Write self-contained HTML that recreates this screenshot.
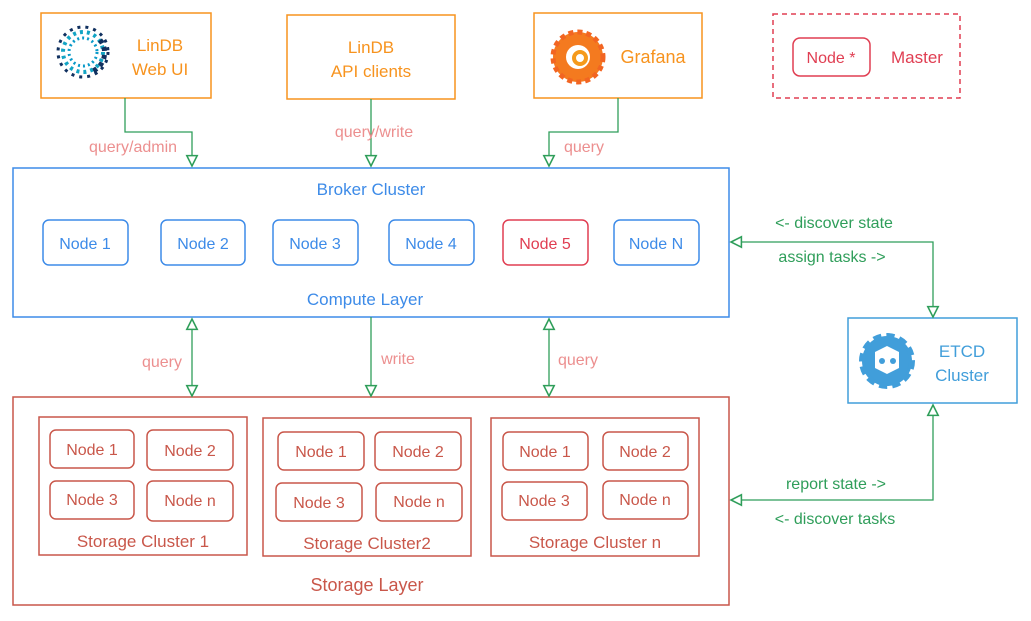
<!DOCTYPE html>
<html><head><meta charset="utf-8"><style>
html,body{margin:0;padding:0;background:#fff}
svg{display:block}
text{font-family:"Liberation Sans",sans-serif}
</style></head><body>
<svg width="1031" height="621" viewBox="0 0 1031 621" xmlns="http://www.w3.org/2000/svg">
<defs>
<marker id="a" viewBox="0 0 10 10" refX="9" refY="5" markerWidth="10" markerHeight="10" orient="auto-start-reverse"><path d="M1,1 L9,5 L1,9 Z" fill="#fff" stroke="#2f9e5a" stroke-width="1.2"/></marker>
</defs>
<g fill="none" stroke="#f7931e" stroke-width="1.5">
<rect x="41" y="13" width="170" height="85"/>
<rect x="287" y="15" width="168" height="84"/>
<rect x="534" y="13" width="168" height="85"/>
</g>
<g>
<circle cx="83" cy="52" r="14" fill="none" stroke="#0a9ac9" stroke-width="3" stroke-dasharray="2 3"/>
<circle cx="83" cy="52" r="20" fill="none" stroke="#12a4c4" stroke-width="4" stroke-dasharray="3 4"/>
<circle cx="83" cy="52" r="25" fill="none" stroke="#10305f" stroke-width="3" stroke-dasharray="3 5"/>
<path d="M100,40 A20,20 0 0 1 90,72" fill="none" stroke="#10305f" stroke-width="5" stroke-dasharray="4 4"/>
</g>
<text x="160" y="51" fill="#f7931e" font-size="17" text-anchor="middle">LinDB</text>
<text x="160" y="75" fill="#f7931e" font-size="17" text-anchor="middle">Web UI</text>
<text x="371" y="53" fill="#f7931e" font-size="17" text-anchor="middle">LinDB</text>
<text x="371" y="77" fill="#f7931e" font-size="17" text-anchor="middle">API clients</text>
<circle cx="578" cy="57" r="25" fill="#f47a1f" stroke="#f26522" stroke-width="5" stroke-dasharray="5 4"/>
<circle cx="578" cy="57" r="12" fill="#fff"/>
<circle cx="580" cy="58" r="6" fill="none" stroke="#f59a1c" stroke-width="4"/>
<text x="653" y="63" fill="#f7931e" font-size="18" text-anchor="middle">Grafana</text>
<rect x="773" y="14" width="187" height="84" fill="none" stroke="#e03e52" stroke-width="1.5" stroke-dasharray="5 4"/>
<rect x="793" y="38" width="77" height="38" rx="7" fill="none" stroke="#e03e52" stroke-width="1.5"/>
<text x="831" y="63" fill="#e03e52" font-size="16" text-anchor="middle">Node *</text>
<text x="917" y="63" fill="#e03e52" font-size="17" text-anchor="middle">Master</text>
<rect x="13" y="168" width="716" height="149" fill="none" stroke="#3d8be8" stroke-width="1.5"/>
<text x="371" y="195" fill="#3d8be8" font-size="17" text-anchor="middle">Broker Cluster</text>
<text x="365" y="305" fill="#3d8be8" font-size="17" text-anchor="middle">Compute Layer</text>
<g fill="none" stroke="#3d8be8" stroke-width="1.5">
<rect x="43" y="220" width="85" height="45" rx="6"/>
<rect x="161" y="220" width="84" height="45" rx="6"/>
<rect x="273" y="220" width="85" height="45" rx="6"/>
<rect x="389" y="220" width="85" height="45" rx="6"/>
<rect x="614" y="220" width="85" height="45" rx="6"/>
</g>
<rect x="503" y="220" width="85" height="45" rx="6" fill="none" stroke="#e03e52" stroke-width="1.5"/>
<g fill="#3d8be8" font-size="16" text-anchor="middle">
<text x="85" y="249">Node 1</text><text x="203" y="249">Node 2</text><text x="315" y="249">Node 3</text><text x="431" y="249">Node 4</text><text x="656" y="249">Node N</text>
</g>
<text x="545" y="249" fill="#e03e52" font-size="16" text-anchor="middle">Node 5</text>
<g fill="none" stroke="#c9574a" stroke-width="1.5">
<rect x="13" y="397" width="716" height="208"/>
<rect x="39" y="417" width="208" height="138"/>
<rect x="263" y="418" width="208" height="138"/>
<rect x="491" y="418" width="208" height="138"/>
<rect x="50" y="430" width="84" height="38" rx="6"/><rect x="147" y="430" width="86" height="40" rx="6"/>
<rect x="50" y="481" width="84" height="38" rx="6"/><rect x="147" y="481" width="86" height="40" rx="6"/>
<rect x="278" y="432" width="86" height="38" rx="6"/><rect x="375" y="432" width="86" height="38" rx="6"/>
<rect x="276" y="483" width="86" height="38" rx="6"/><rect x="376" y="483" width="86" height="38" rx="6"/>
<rect x="503" y="432" width="85" height="38" rx="6"/><rect x="603" y="432" width="85" height="38" rx="6"/>
<rect x="502" y="482" width="85" height="38" rx="6"/><rect x="603" y="481" width="85" height="38" rx="6"/>
</g>
<g fill="#c9574a" font-size="16" text-anchor="middle">
<text x="92" y="455">Node 1</text><text x="190" y="456">Node 2</text>
<text x="92" y="505">Node 3</text><text x="190" y="506">Node n</text>
<text x="321" y="457">Node 1</text><text x="418" y="457">Node 2</text>
<text x="319" y="508">Node 3</text><text x="419" y="507">Node n</text>
<text x="545" y="457">Node 1</text><text x="645" y="457">Node 2</text>
<text x="544" y="506">Node 3</text><text x="645" y="505">Node n</text>
<text x="143" y="547" font-size="17">Storage Cluster 1</text>
<text x="367" y="549" font-size="17">Storage Cluster2</text>
<text x="595" y="548" font-size="17">Storage Cluster n</text>
<text x="367" y="591" font-size="18">Storage Layer</text>
</g>
<rect x="848" y="318" width="169" height="85" fill="none" stroke="#419eda" stroke-width="1.5"/>
<circle cx="887" cy="361" r="25" fill="#419eda" stroke="#419eda" stroke-width="6" stroke-dasharray="8 5"/>
<circle cx="887" cy="361" r="22" fill="#419eda"/>
<path d="M875,352 L887,346 L899,352 L899,368 L887,374 L875,368Z" fill="#fff"/>
<circle cx="882" cy="361" r="3" fill="#419eda"/><circle cx="893" cy="361" r="3" fill="#419eda"/>
<text x="962" y="357" fill="#419eda" font-size="17" text-anchor="middle">ETCD</text>
<text x="962" y="381" fill="#419eda" font-size="17" text-anchor="middle">Cluster</text>
<g fill="none" stroke="#2f9e5a" stroke-width="1.3">
<path d="M125,98 V132 H192 V166" marker-end="url(#a)"/>
<path d="M371,99 V166" marker-end="url(#a)"/>
<path d="M618,98 V132 H549 V166" marker-end="url(#a)"/>
<path d="M192,319 V396" marker-start="url(#a)" marker-end="url(#a)"/>
<path d="M371,317 V396" marker-end="url(#a)"/>
<path d="M549,319 V396" marker-start="url(#a)" marker-end="url(#a)"/>
<path d="M731,242 H933 V317" marker-start="url(#a)" marker-end="url(#a)"/>
<path d="M933,405 V500 H731" marker-start="url(#a)" marker-end="url(#a)"/>
</g>
<g fill="#ec8f8f" font-size="16" text-anchor="middle">
<text x="133" y="152">query/admin</text>
<text x="374" y="137">query/write</text>
<text x="584" y="152">query</text>
<text x="162" y="367">query</text>
<text x="398" y="364">write</text>
<text x="578" y="365">query</text>
</g>
<g fill="#2f9e5a" font-size="16" text-anchor="middle">
<text x="834" y="228">&lt;- discover state</text>
<text x="832" y="262">assign tasks -&gt;</text>
<text x="836" y="489">report state -&gt;</text>
<text x="835" y="524">&lt;- discover tasks</text>
</g>
</svg>
</body></html>
